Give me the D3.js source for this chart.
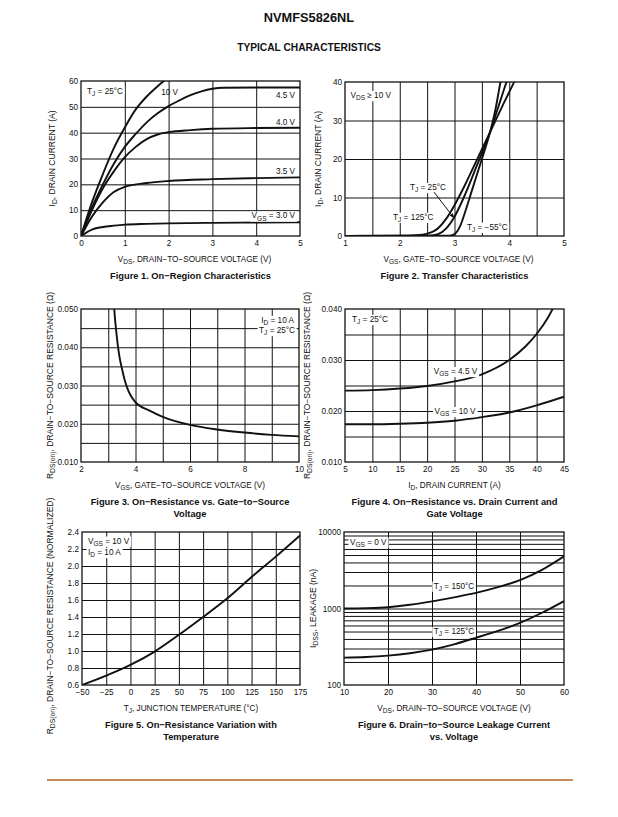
<!DOCTYPE html>
<html>
<head>
<meta charset="utf-8">
<script src="https://cdn.jsdelivr.net/npm/d3@7"></script>
<style>
body { margin: 0; background: #fff; }
svg text { font-family: "Liberation Sans", Arial, Helvetica, sans-serif; fill: #111; }
</style>
</head>
<body>
<svg id="page" width="618" height="817"></svg>
<script>
// ---------- data ----------

// Figure 1: VDS (V) -> ID (A), one curve per VGS
const fig1Vgs10 = [[0,0],[0.25,13],[0.5,24],[0.75,34],[1,42],[1.25,49],[1.5,54],[1.75,58],[2.0,61.5]];
const fig1Vgs45 = [[0,0],[0.25,11],[0.5,20],[0.75,28],[1,34.5],[1.25,39.5],[1.5,44],[1.75,47.5],[2,50.3],[2.25,52.5],[2.5,54.5],[2.75,56],[3,57],[3.25,57.4],[4,57.5],[5,57.5]];
const fig1Vgs40 = [[0,0],[0.25,10],[0.5,18.5],[0.75,25],[1,30.5],[1.25,34.5],[1.5,37.5],[1.75,39.3],[2,40.2],[2.5,41],[3,41.5],[4,41.8],[5,41.9]];
const fig1Vgs35 = [[0,0],[0.25,7.5],[0.5,13],[0.75,17],[1,19],[1.5,20.5],[2,21.3],[3,22],[4,22.4],[5,22.7]];
const fig1Vgs30 = [[0,0],[0.25,2.5],[0.5,3.5],[0.75,4],[1,4.4],[1.5,4.7],[2,4.9],[3,5.1],[4,5.2],[5,5.3]];
const fig1XTicks = [0,1,2,3,4,5];
const fig1YTicks = [0,10,20,30,40,50,60];

// Figure 2: VGS (V) -> ID (A), one curve per TJ
const fig2T125 = [[1,0],[2,0.05],[2.3,0.2],[2.5,0.6],[2.7,2],[2.85,4.5],[3,8],[3.2,13.5],[3.4,19.5],[3.65,27],[3.9,34.5],[4.1,40.3]];
const fig2T25 = [[1,0],[2.5,0.05],[2.7,0.5],[2.85,2],[3,5],[3.2,11],[3.4,18],[3.65,27],[3.8,33.5],[3.95,40],[4,42]];
const fig2Tm55 = [[1,0],[2.9,0.05],[3,0.5],[3.1,2.5],[3.2,6.5],[3.3,11],[3.4,15.5],[3.5,20],[3.65,27],[3.75,33],[3.84,40],[3.9,44]];
const fig2XTicks = [1,2,3,4,5];
const fig2YTicks = [0,10,20,30,40];

// Figure 3: VGS (V) -> RDS(on) (ohm)
const fig3Rds = [[3.18,0.055],[3.22,0.050],[3.3,0.0437],[3.4,0.038],[3.5,0.0345],[3.6,0.0315],[3.75,0.0284],[4,0.0256],[4.5,0.0235],[5,0.0218],[6,0.0197],[7,0.0185],[8,0.0177],[9,0.0171],[10,0.0167]];
const fig3XTicks = [2,4,6,8,10];
const fig3YTicks = [0.010,0.020,0.030,0.040,0.050];

// Figure 4: ID (A) -> RDS(on) (ohm), one curve per VGS
const fig4Vgs45 = [[5,0.0240],[10,0.0241],[15,0.0244],[20,0.0249],[25,0.0258],[30,0.0272],[35,0.0300],[38,0.0327],[40,0.0351],[42,0.0382],[43.5,0.0412]];
const fig4Vgs10 = [[5,0.0174],[10,0.0174],[15,0.0175],[20,0.0177],[25,0.0181],[30,0.0188],[35,0.0197],[40,0.0211],[45,0.0228]];
const fig4XTicks = [5,10,15,20,25,30,35,40,45];
const fig4YTicks = [0.010,0.020,0.030,0.040];

// Figure 5: TJ (C) -> normalized RDS(on)
const fig5Rnorm = [[-50,0.6],[-25,0.71],[0,0.836],[25,0.993],[50,1.19],[75,1.40],[100,1.62],[125,1.87],[150,2.11],[175,2.36]];
const fig5XTicks = [-50,-25,0,25,50,75,100,125,150,175];
const fig5YTicks = [0.6,0.8,1.0,1.2,1.4,1.6,1.8,2.0,2.2,2.4];

// Figure 6: VDS (V) -> IDSS (nA), one curve per TJ
const fig6T150 = [[10,1000],[15,1010],[20,1040],[25,1120],[30,1240],[35,1400],[40,1600],[45,1900],[50,2350],[55,3200],[60,4800]];
const fig6T125 = [[10,228],[15,232],[20,242],[25,260],[30,290],[35,340],[40,415],[45,510],[50,650],[55,880],[60,1250]];
const fig6XTicks = [10,20,30,40,50,60];
const fig6YTicks = [100,1000,10000];
const fig6YGrid = [200,300,400,500,600,700,800,900,1000,2000,3000,4000,5000,6000,7000,8000,9000];

// ---------- drawing ----------
const svg = d3.select('#page');
const MINUS = '\u2212';
const fmtMinus = f => d => f(d).replace('-', MINUS);

// writes a string into a text element, "_{..}" becomes a subscript
function rich(sel, str, size) {
    const parts = str.split(/(_\{[^}]*\})/).filter(s => s.length);
    let down = false;
    parts.forEach(p => {
        if (p.startsWith('_{')) {
            sel.append('tspan').attr('font-size', size * 0.8).attr('dy', size * 0.28).text(p.slice(2, -1));
            down = true;
        } else {
            const t = sel.append('tspan').text(p);
            if (down) { t.attr('dy', -size * 0.28); down = false; }
        }
    });
}

svg.append('text').attr('x', 309).attr('y', 22).attr('text-anchor', 'middle')
    .attr('font-size', 12.8).attr('font-weight', 'bold').text('NVMFS5826NL');
svg.append('text').attr('x', 309).attr('y', 51).attr('text-anchor', 'middle')
    .attr('font-size', 10.2).attr('font-weight', 'bold').text('TYPICAL CHARACTERISTICS');

const defs = svg.append('defs');
defs.append('marker').attr('id', 'arrow').attr('viewBox', '0 0 10 10')
    .attr('refX', 9).attr('refY', 5).attr('markerWidth', 5).attr('markerHeight', 5)
    .attr('orient', 'auto')
    .append('path').attr('d', 'M0,1 L10,5 L0,9 Z').attr('fill', '#111');

const TICK_SIZE = 8.2;
const XLAB_SIZE = 8.2;
const YLAB_SIZE = 8.5;
const NOTE_SIZE = 8.2;

const drawChart = function(c) {
    const [x0, x1, y0, y1] = c.box;
    const x = d3.scaleLinear().domain(c.xDomain).range([x0, x1]);
    const y = (c.log ? d3.scaleLog() : d3.scaleLinear()).domain(c.yDomain).range([y1, y0]);
    const g = svg.append('g');

    // grid lines
    g.append('g').attr('transform', `translate(0,${y1})`)
        .call(d3.axisBottom(x).tickValues(c.xGrid).tickSize(-(y1 - y0)).tickFormat(''))
        .call(a => a.select('.domain').remove())
        .selectAll('line').attr('stroke', '#111').attr('stroke-width', 1);
    g.append('g').attr('transform', `translate(${x0},0)`)
        .call(d3.axisLeft(y).tickValues(c.yGrid).tickSize(-(x1 - x0)).tickFormat(''))
        .call(a => a.select('.domain').remove())
        .selectAll('line').attr('stroke', '#111').attr('stroke-width', 1);

    // tick labels
    const xa = g.append('g').attr('transform', `translate(0,${y1})`)
        .call(d3.axisBottom(x).tickValues(c.xTicks).tickSize(0).tickPadding(4).tickFormat(c.xFmt));
    const ya = g.append('g').attr('transform', `translate(${x0},0)`)
        .call(d3.axisLeft(y).tickValues(c.yTicks).tickSize(0).tickPadding(3).tickFormat(c.yFmt));
    [xa, ya].forEach(a => {
        a.select('.domain').remove();
        a.attr('font-family', null).attr('font-size', TICK_SIZE);
        a.selectAll('text').attr('fill', '#111');
    });

    // curves
    const clipId = 'clip' + c.id;
    defs.append('clipPath').attr('id', clipId)
        .append('rect').attr('x', x0).attr('y', y0).attr('width', x1 - x0).attr('height', y1 - y0);
    const line = d3.line().x(d => x(d[0])).y(d => y(d[1])).curve(d3.curveMonotoneX);
    g.append('g').attr('clip-path', `url(#${clipId})`)
        .selectAll('path').data(c.series).join('path')
        .attr('d', line).attr('fill', 'none').attr('stroke', '#111').attr('stroke-width', 1.9);

    // in-plot labels with white backing
    c.labels.forEach(l => {
        const t = g.append('text')
            .attr('x', x(l.at[0])).attr('y', y(l.at[1]) + NOTE_SIZE * 0.35)
            .attr('text-anchor', l.anchor || 'start').attr('font-size', NOTE_SIZE);
        rich(t, l.t, NOTE_SIZE);
        if (l.bg) {
            const b = t.node().getBBox();
            g.insert('rect', () => t.node())
                .attr('x', b.x - 1.5).attr('y', b.y).attr('width', b.width + 3).attr('height', b.height)
                .attr('fill', '#fff');
        }
    });
    if (c.arrow) {
        g.append('line')
            .attr('x1', x(c.arrow[0][0])).attr('y1', y(c.arrow[0][1]))
            .attr('x2', x(c.arrow[1][0])).attr('y2', y(c.arrow[1][1]))
            .attr('stroke', '#111').attr('stroke-width', 1).attr('marker-end', 'url(#arrow)');
    }

    // frame
    g.append('rect').attr('x', x0).attr('y', y0).attr('width', x1 - x0).attr('height', y1 - y0)
        .attr('fill', 'none').attr('stroke', '#111').attr('stroke-width', 1.3);

    // axis titles
    const cx = (x0 + x1) / 2;
    const xt = g.append('text').attr('x', cx + (c.xLabelShift || 0)).attr('y', y1 + 26)
        .attr('text-anchor', 'middle').attr('font-size', XLAB_SIZE);
    rich(xt, c.xLabel, XLAB_SIZE);
    const yt = g.append('text')
        .attr('transform', `translate(${c.yLabelX},${c.yLabelY || (y0 + y1) / 2}) rotate(-90)`)
        .attr('text-anchor', 'middle').attr('font-size', YLAB_SIZE).attr('dy', '0.35em');
    rich(yt, c.yLabel, YLAB_SIZE);

    // caption
    c.caption.forEach((line, i) => {
        g.append('text').attr('x', cx).attr('y', y1 + 43 + i * 12.3)
            .attr('text-anchor', 'middle').attr('font-size', 9.3).attr('font-weight', 'bold').text(line);
    });
};

const intFmt = d3.format('d');
const R_LABEL = 'R_{DS(on)}, DRAIN' + MINUS + 'TO' + MINUS + 'SOURCE RESISTANCE';
const VDS_LABEL = 'V_{DS}, DRAIN' + MINUS + 'TO' + MINUS + 'SOURCE VOLTAGE (V)';
const VGS_LABEL = 'V_{GS}, GATE' + MINUS + 'TO' + MINUS + 'SOURCE VOLTAGE (V)';

const charts = [
    { id: 1, box: [81, 300, 81, 236], xDomain: [0, 5], yDomain: [0, 60],
      xGrid: [1, 2, 3, 4], yGrid: [10, 20, 30, 40, 50],
      xTicks: fig1XTicks, yTicks: fig1YTicks, xFmt: intFmt, yFmt: intFmt,
      series: [fig1Vgs10, fig1Vgs45, fig1Vgs40, fig1Vgs35, fig1Vgs30],
      labels: [
          { t: 'T_{J} = 25°C', at: [0.137, 56.2], bg: true },
          { t: '10 V', at: [1.83, 55.7] },
          { t: '4.5 V', at: [4.886, 54.6], anchor: 'end' },
          { t: '4.0 V', at: [4.886, 44.2], anchor: 'end' },
          { t: '3.5 V', at: [4.886, 25.3], anchor: 'end' },
          { t: 'V_{GS} = 3.0 V', at: [4.886, 7.9], anchor: 'end', bg: true }
      ],
      xLabel: VDS_LABEL, xLabelShift: 4, yLabel: 'I_{D}, DRAIN CURRENT (A)', yLabelX: 52,
      caption: ['Figure 1. On' + MINUS + 'Region Characteristics'] },
    { id: 2, box: [345, 564, 82, 236], xDomain: [1, 5], yDomain: [0, 40],
      xGrid: [1.5, 2, 2.5, 3, 3.5, 4, 4.5], yGrid: [10, 20, 30],
      xTicks: fig2XTicks, yTicks: fig2YTicks, xFmt: intFmt, yFmt: intFmt,
      series: [fig2T125, fig2T25, fig2Tm55],
      labels: [
          { t: 'V_{DS} \u2265 10 V', at: [1.1, 36.6], bg: true },
          { t: 'T_{J} = 25°C', at: [2.187, 12.7], bg: true },
          { t: 'T_{J} = 125°C', at: [1.877, 5.0], bg: true },
          { t: 'T_{J} = ' + MINUS + '55°C', at: [3.228, 2.4], bg: true }
      ],
      arrow: [[2.626, 11.4], [2.99, 4.7]],
      xLabel: VGS_LABEL, xLabelShift: 4, yLabel: 'I_{D}, DRAIN CURRENT (A)', yLabelX: 318,
      caption: ['Figure 2. Transfer Characteristics'] },
    { id: 3, box: [81, 299, 309, 462], xDomain: [2, 10], yDomain: [0.01, 0.05],
      xGrid: [3, 4, 5, 6, 7, 8, 9], yGrid: [0.015, 0.02, 0.025, 0.03, 0.035, 0.04, 0.045],
      xTicks: fig3XTicks, yTicks: fig3YTicks, xFmt: intFmt, yFmt: d3.format('.3f'),
      series: [fig3Rds],
      labels: [
          { t: 'I_{D} = 10 A', at: [9.817, 0.04712], anchor: 'end', bg: true },
          { t: 'T_{J} = 25°C', at: [9.853, 0.0445], anchor: 'end', bg: true }
      ],
      xLabel: VGS_LABEL, yLabel: R_LABEL + ' (\u03A9)', yLabelX: 50,
      caption: ['Figure 3. On' + MINUS + 'Resistance vs. Gate' + MINUS + 'to' + MINUS + 'Source', 'Voltage'] },
    { id: 4, box: [345, 564, 309, 462], xDomain: [5, 45], yDomain: [0.01, 0.04],
      xGrid: [10, 15, 20, 25, 30, 35, 40], yGrid: [0.015, 0.02, 0.025, 0.03, 0.035],
      xTicks: fig4XTicks, yTicks: fig4YTicks, xFmt: intFmt, yFmt: d3.format('.3f'),
      series: [fig4Vgs45, fig4Vgs10],
      labels: [
          { t: 'T_{J} = 25°C', at: [6.28, 0.03804], bg: true },
          { t: 'V_{GS} = 4.5 V', at: [25.18, 0.02784], anchor: 'middle', bg: true },
          { t: 'V_{GS} = 10 V', at: [25.09, 0.0200], anchor: 'middle', bg: true }
      ],
      xLabel: 'I_{D}, DRAIN CURRENT (A)', yLabel: R_LABEL + ' (\u03A9)', yLabelX: 307,
      caption: ['Figure 4. On' + MINUS + 'Resistance vs. Drain Current and', 'Gate Voltage'] },
    { id: 5, box: [82, 300, 532, 685], xDomain: [-50, 175], yDomain: [0.6, 2.4],
      xGrid: [-25, 0, 25, 50, 75, 100, 125, 150], yGrid: [0.8, 1.0, 1.2, 1.4, 1.6, 1.8, 2.0, 2.2],
      xTicks: fig5XTicks, yTicks: fig5YTicks, xFmt: fmtMinus(intFmt), yFmt: d3.format('.1f'),
      series: [fig5Rnorm],
      labels: [
          { t: 'V_{GS} = 10 V', at: [-43.8, 2.298], bg: true },
          { t: 'I_{D} = 10 A', at: [-43.8, 2.165], bg: true }
      ],
      xLabel: 'T_{J}, JUNCTION TEMPERATURE (°C)', yLabel: R_LABEL + ' (NORMALIZED)', yLabelX: 50, yLabelY: 616,
      caption: ['Figure 5. On' + MINUS + 'Resistance Variation with', 'Temperature'] },
    { id: 6, box: [344, 564, 532, 685], xDomain: [10, 60], yDomain: [100, 10000], log: true,
      xGrid: [20, 30, 40, 50], yGrid: fig6YGrid,
      xTicks: fig6XTicks, yTicks: fig6YTicks, xFmt: intFmt, yFmt: intFmt,
      series: [fig6T150, fig6T125],
      labels: [
          { t: 'V_{GS} = 0 V', at: [11.36, 7466], bg: true },
          { t: 'T_{J} = 150°C', at: [35, 1986], anchor: 'middle', bg: true },
          { t: 'T_{J} = 125°C', at: [35, 508], anchor: 'middle', bg: true }
      ],
      xLabel: VDS_LABEL, yLabel: 'I_{DSS}, LEAKAGE (nA)', yLabelX: 313,
      caption: ['Figure 6. Drain' + MINUS + 'to' + MINUS + 'Source Leakage Current', 'vs. Voltage'] }
];

charts.forEach(drawChart);

// footer rule
svg.append('line').attr('x1', 47).attr('x2', 573).attr('y1', 780).attr('y2', 780)
    .attr('stroke', '#c98d5a').attr('stroke-width', 2);
</script>
</body>
</html>
